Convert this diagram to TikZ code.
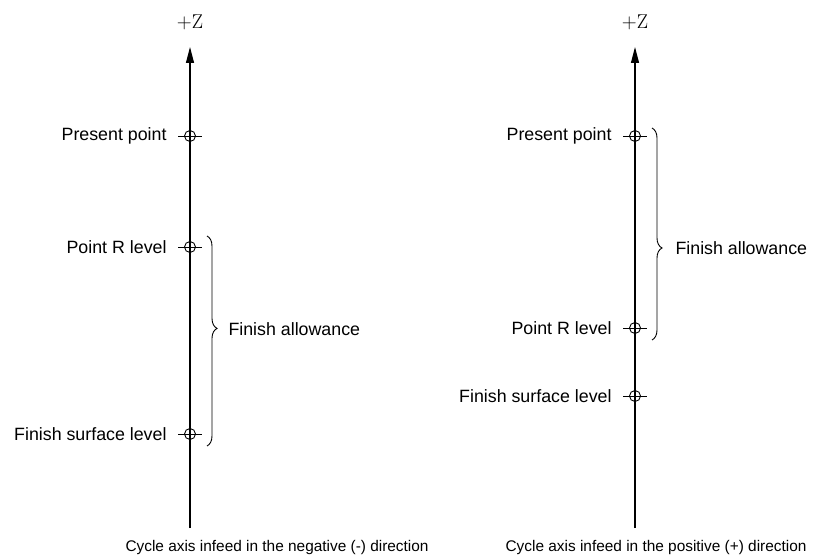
\documentclass[tikz,border=0pt]{standalone}
\usepackage{fontspec}
\newfontfamily\labelfont{Liberation Sans}
\usetikzlibrary{arrows.meta,positioning,decorations.pathreplacing}

\tikzset{
  zaxis/.style={line width=1.1bp, -{Triangle[length=16bp,width=8bp]}},
  pointmark/.style={circle, draw, line width=0.9bp, inner sep=0pt, minimum size=11bp},
  pointtext/.style={font=\labelfont\fontsize{17.8bp}{21bp}\selectfont},
  captiontext/.style={font=\labelfont\fontsize{15.4bp}{18bp}\selectfont},
  ztext/.style={font=\fontsize{20bp}{24bp}\selectfont},
  allowbrace/.style={decorate, line width=0.9bp, decoration={brace, amplitude=10bp, aspect=#1}},
}
\newcommand{\tick}[1]{\draw[line width=0.9bp] ([xshift=-12bp]#1.center) -- ([xshift=12bp]#1.center);}

\begin{document}
\begin{tikzpicture}[x=1bp, y=-1bp]
    \useasboundingbox (0,0) rectangle (815,559);

    % Left: negative direction
    \coordinate (botL) at (190,528);
    \coordinate (topL) at (190,47);
    \draw[zaxis] (botL) -- (topL);
    \node[ztext] (zL) at (190,22) {$+$Z};

    \node[pointmark] (presL) at (190,136) {};
    \node[pointmark] (rL) at (190,247) {};
    \node[pointmark] (finL) at (190,434) {};
    \tick{presL} \tick{rL} \tick{finL}
    \node[pointtext, left=14bp of presL] (presLtxt) {Present point};
    \node[pointtext, left=14bp of rL] (rLtxt) {Point R level};
    \node[pointtext, left=14bp of finL] (finLtxt) {Finish surface level};

    % Brace
    \coordinate (braceLa) at (207,236);
    \coordinate (braceLb) at (207,446);
    \coordinate (tipL) at (217,329);
    \draw[allowbrace=0.44] (braceLa) -- (braceLb);
    \node[pointtext, right=8bp of tipL] (allowL) {Finish allowance};

    \node[captiontext, anchor=west] (capL) at (122,548) {Cycle axis infeed in the negative (-) direction};

    % Right: positive direction
    \coordinate (botR) at (635,528);
    \coordinate (topR) at (635,47);
    \draw[zaxis] (botR) -- (topR);
    \node[ztext] (zR) at (635,22) {$+$Z};

    \node[pointmark] (presR) at (635,136) {};
    \node[pointmark] (rR) at (635,328) {};
    \node[pointmark] (finR) at (635,396) {};
    \tick{presR} \tick{rR} \tick{finR}
    \node[pointtext, left=14bp of presR] (presRtxt) {Present point};
    \node[pointtext, left=14bp of rR] (rRtxt) {Point R level};
    \node[pointtext, left=14bp of finR] (finRtxt) {Finish surface level};

    % Brace
    \coordinate (braceRa) at (652,128);
    \coordinate (braceRb) at (652,340);
    \coordinate (tipR) at (662,248);
    \draw[allowbrace=0.566] (braceRa) -- (braceRb);
    \node[pointtext, right=10bp of tipR] (allowR) {Finish allowance};

    \node[captiontext, anchor=east] (capR) at (810,548) {Cycle axis infeed in the positive (+) direction};
\end{tikzpicture}
\end{document}
